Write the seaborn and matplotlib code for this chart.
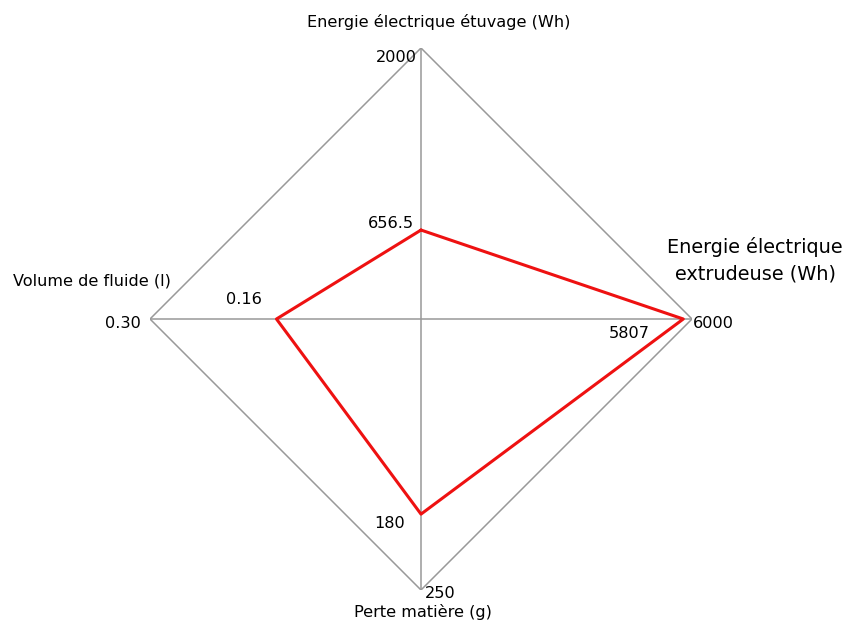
import matplotlib
matplotlib.use("Agg")
import matplotlib.pyplot as plt
import seaborn as sns
import numpy as np
import pandas as pd

# Axes of the radar (top, right, bottom, left)
axis_names = ["Energie électrique étuvage (Wh)", "Energie électrique\nextrudeuse (Wh)",
              "Perte matière (g)", "Volume de fluide (l)"]
axis_max = [2000, 6000, 250, 0.30]
axis_max_labels = ["2000", "6000", "250", "0.30"]
values = [656.5, 5807, 180, 0.16]
value_labels = ["656.5", "5807", "180", "0.16"]

sns.set_theme(style="white")
plt.rcParams["font.family"] = ["DejaVu Sans"]
plt.rcParams["text.color"] = "black"

W, H = 846, 623
fig = plt.figure(figsize=(W / 100, H / 100), dpi=100)
cx, cy, r = 421, 319, 271
ax = fig.add_axes([(cx - r) / W, (H - cy - r) / H, 2 * r / W, 2 * r / H])
ax.set_xlim(-1, 1)
ax.set_ylim(-1, 1)
ax.axis("off")

# directions: top, right, bottom, left
dirs = np.array([[0, 1], [1, 0], [0, -1], [-1, 0]], dtype=float)

grid = "#999999"
# outer diamond
outer = np.vstack([dirs, dirs[:1]])
ax.plot(outer[:, 0], outer[:, 1], color=grid, lw=1.1, zorder=1)
# spokes
ax.plot([0, 0], [-1, 1], color=grid, lw=1.1, zorder=1)
ax.plot([-1, 1], [0, 0], color=grid, lw=1.1, zorder=1)

# data polygon
frac = np.array(values) / np.array(axis_max)
pts = dirs * frac[:, None]
poly = pd.DataFrame({"x": list(pts[:, 0]) + [pts[0, 0]],
                     "y": list(pts[:, 1]) + [pts[0, 1]],
                     "order": range(5)})
sns.lineplot(data=poly, x="x", y="y", sort=False, estimator=None,
             color="#ee1111", lw=2.2, ax=ax, zorder=3)

def px(x, y):
    return ((x - cx) / r, (cy - y) / r)

fs = 11.6
# axis titles
ax.text(*px(439, 22), axis_names[0], ha="center", va="center", fontsize=fs)
ax.text(*px(755, 260), axis_names[1], ha="center", va="center", fontsize=13.9,
        linespacing=1.5)
ax.text(*px(423, 612), axis_names[2], ha="center", va="center", fontsize=fs)
ax.text(*px(92, 281), axis_names[3], ha="center", va="center", fontsize=fs)

# maximum labels
ax.text(*px(417, 57), axis_max_labels[0], ha="right", va="center", fontsize=fs)
ax.text(*px(693, 323), axis_max_labels[1], ha="left", va="center", fontsize=fs)
ax.text(*px(425, 593), axis_max_labels[2], ha="left", va="center", fontsize=fs)
ax.text(*px(141, 323), axis_max_labels[3], ha="right", va="center", fontsize=fs)

# value labels
ax.text(*px(414, 223), value_labels[0], ha="right", va="center", fontsize=fs)
ax.text(*px(650, 333), value_labels[1], ha="right", va="center", fontsize=fs)
ax.text(*px(405, 524), value_labels[2], ha="right", va="center", fontsize=fs)
ax.text(*px(262, 299), value_labels[3], ha="right", va="center", fontsize=fs)

fig.savefig("out.png", dpi=100, facecolor="white")
